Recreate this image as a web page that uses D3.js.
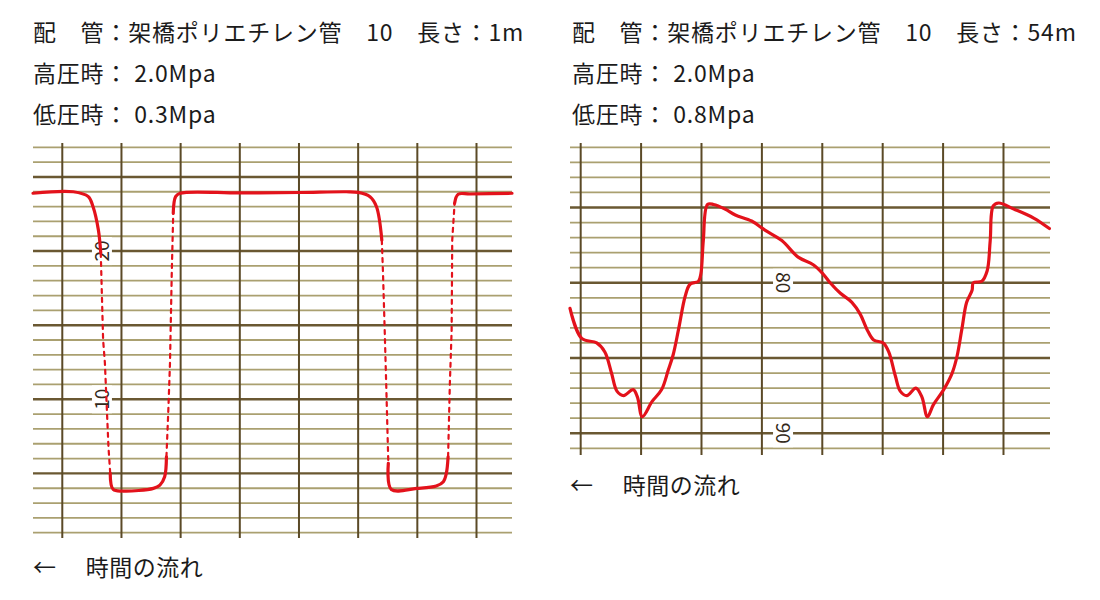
<!DOCTYPE html>
<html>
<head>
<meta charset="utf-8">
<script src="https://cdn.jsdelivr.net/npm/d3@7"></script>
<style>
  html, body { margin: 0; padding: 0; background: #ffffff; }
  svg text { font-family: "Noto Sans CJK JP", "Noto Sans", sans-serif; white-space: pre; }
</style>
</head>
<body>
<svg id="chart" width="1100" height="600"></svg>
<script>
// ---- Header / caption texts ----
const leftHeader = ["配　管：架橋ポリエチレン管　10　長さ：1m", "高圧時： 2.0Mpa", "低圧時： 0.3Mpa"];
const rightHeader = ["配　管：架橋ポリエチレン管　10　長さ：54m", "高圧時： 2.0Mpa", "低圧時： 0.8Mpa"];
const flowCaption = "←　 時間の流れ";

// ---- Grid (chart paper) ----
const timeDivisions = [0, 1, 2, 3, 4, 5, 6, 7];
const leftScaleValues = d3.range(1, 28);      // 1 .. 27
const rightScaleValues = d3.range(71, 92);    // 71 .. 91
const leftScaleLabels = [20, 10];
const rightScaleLabels = [80, 90];

// ---- Left recording (length 1 m) ----
const leftTime  = [-0.495, 0.186, 0.44, 0.52, 0.61, 0.65, 0.69, 0.72, 0.78, 0.81, 0.86, 1.03, 1.54, 1.65, 1.73, 1.76, 1.79, 1.82, 1.85, 1.875, 1.915, 1.99, 3.0, 4.0, 4.80, 5.00, 5.20, 5.31, 5.40, 5.42, 5.45, 5.48, 5.51, 5.56, 5.99, 6.32, 6.44, 6.49, 6.52, 6.55, 6.58, 6.59, 6.63, 6.69, 6.89, 7.60];
const leftValue = [23.9, 24.0, 23.67, 22.99, 21.42, 19.87, 14.0, 12.45, 6.8, 5.0, 3.92, 3.81, 3.99, 4.21, 4.77, 6.12, 9.05, 12.43, 18.5, 22.55, 23.67, 23.9, 23.92, 23.95, 24.0, 23.96, 23.67, 22.99, 20.74, 18.5, 14.45, 10.17, 5.68, 3.92, 3.99, 4.15, 4.44, 5.0, 6.12, 11.08, 14.67, 20.74, 23.22, 23.83, 23.85, 23.9];

// ---- Right recording (length 54 m) ----
const rightTime  = [-0.177, 0.017, 0.265, 0.40, 0.51, 0.60, 0.71, 0.87, 0.94, 1.02, 1.18, 1.34, 1.45, 1.53, 1.62, 1.73, 1.81, 1.95, 1.99, 2.03, 2.10, 2.20, 2.39, 2.56, 2.83, 3.05, 3.33, 3.60, 3.85, 4.01, 4.13, 4.30, 4.49, 4.63, 4.74, 4.85, 5.01, 5.10, 5.21, 5.29, 5.40, 5.55, 5.65, 5.74, 5.84, 6.01, 6.15, 6.23, 6.31, 6.39, 6.48, 6.50, 6.64, 6.73, 6.78, 6.83, 6.92, 7.17, 7.50, 7.76];
const rightValue = [81.7, 83.7, 84.0, 84.6, 86.0, 87.2, 87.5, 87.1, 87.6, 88.9, 87.9, 87.1, 85.8, 84.8, 83.1, 80.9, 80.1, 79.9, 79.4, 77.2, 74.8, 74.8, 75.1, 75.5, 75.9, 76.5, 77.2, 78.3, 78.8, 79.4, 80.0, 80.7, 81.3, 82.1, 83.1, 83.8, 84.0, 84.6, 86.2, 87.2, 87.5, 87.0, 87.6, 88.9, 88.1, 87.1, 86.0, 84.9, 83.1, 81.3, 80.5, 80.0, 79.9, 79.2, 77.2, 74.9, 74.7, 75.1, 75.7, 76.4];

const svg = d3.select("#chart");
const PAPER = { vline: "#5b4a27", major: "#6a5832", minor: "#aaa070" };
const PEN = "#e3121b";

function header(lines, x) {
  svg.append("g").selectAll("text").data(lines).join("text")
    .attr("x", x).attr("y", (d, i) => 41 + i * 41)
    .attr("font-size", 23).attr("letter-spacing", 0.8)
    .attr("fill", "#1b1b1b").text(d => d);
}
header(leftHeader, 33);
header(rightHeader, 572);

function panel(opts) {
  const x = d3.scaleLinear().domain(opts.tDomain).range(opts.xRange);
  const y = d3.scaleLinear().domain(opts.vDomain).range(opts.yRange);
  const g = svg.append("g");

  // horizontal rulings
  g.append("g").selectAll("line").data(opts.values).join("line")
    .attr("x1", opts.xRange[0]).attr("x2", opts.xRange[1])
    .attr("y1", d => y(d)).attr("y2", d => y(d))
    .attr("stroke", d => d % 5 === 0 ? PAPER.major : PAPER.minor)
    .attr("stroke-width", d => d % 5 === 0 ? 2.4 : 1.8);

  // vertical rulings
  g.append("g").selectAll("line").data(timeDivisions).join("line")
    .attr("x1", d => x(d)).attr("x2", d => x(d))
    .attr("y1", opts.vExtent[0]).attr("y2", opts.vExtent[1])
    .attr("stroke", PAPER.vline).attr("stroke-width", 2);

  // scale labels printed on the paper
  const lab = g.append("g").selectAll("g").data(opts.labels).join("g")
    .attr("transform", d => `translate(${x(opts.labelT)},${y(d)}) rotate(${opts.labelRot})`);
  lab.append("rect").attr("x", -14).attr("y", -10).attr("width", 28).attr("height", 20).attr("fill", "#ffffff");
  lab.append("text").attr("text-anchor", "middle").attr("dy", "0.36em")
    .attr("font-size", 19).attr("fill", "#33291a").text(d => d);

  // pen trace
  const pts = opts.time.map((t, i) => [t, opts.value[i]]);
  if (opts.splitFast) {
    const runs = [];
    for (let i = 0; i < pts.length - 1; i++) {
      const slope = Math.abs((pts[i + 1][1] - pts[i][1]) / (pts[i + 1][0] - pts[i][0]));
      const fast = slope > 50;
      const last = runs[runs.length - 1];
      if (last && last.fast === fast) last.pts.push(pts[i + 1]);
      else runs.push({ fast, pts: [pts[i], pts[i + 1]] });
    }
    const line = d3.line().x(d => x(d[0])).y(d => y(d[1]));
    g.append("g").selectAll("path").data(runs).join("path")
      .attr("d", d => (d.fast ? line.curve(d3.curveLinear) : line.curve(d3.curveCatmullRom.alpha(0.5)))(d.pts))
      .attr("fill", "none").attr("stroke", PEN)
      .attr("stroke-width", d => d.fast ? 2.2 : 3.2)
      .attr("stroke-dasharray", d => d.fast ? "4,5" : null)
      .attr("stroke-linecap", "round").attr("stroke-linejoin", "round");
  } else {
    const line = d3.line().x(d => x(d[0])).y(d => y(d[1])).curve(d3.curveCatmullRom.alpha(0.5));
    g.append("path").attr("d", line(pts))
      .attr("fill", "none").attr("stroke", PEN).attr("stroke-width", 3.2)
      .attr("stroke-linecap", "round").attr("stroke-linejoin", "round");
  }

  // caption
  svg.append("text").attr("x", opts.xRange[0]).attr("y", opts.captionY)
    .attr("font-size", 23).attr("letter-spacing", 0.5).attr("fill", "#1b1b1b").text(flowCaption);
}

panel({
  tDomain: [-0.495, 7.6], xRange: [33, 512],
  vDomain: [27, 1], yRange: [147.3, 532.7], vExtent: [143, 538],
  values: leftScaleValues, labels: leftScaleLabels, labelT: 0.67, labelRot: -90,
  time: leftTime, value: leftValue, splitFast: true, captionY: 576
});

panel({
  tDomain: [-0.177, 7.77], xRange: [570, 1050],
  vDomain: [71, 91], yRange: [147.3, 448.3], vExtent: [143, 455],
  values: rightScaleValues, labels: rightScaleLabels, labelT: 3.35, labelRot: 90,
  time: rightTime, value: rightValue, splitFast: false, captionY: 494
});
</script>
</body>
</html>
